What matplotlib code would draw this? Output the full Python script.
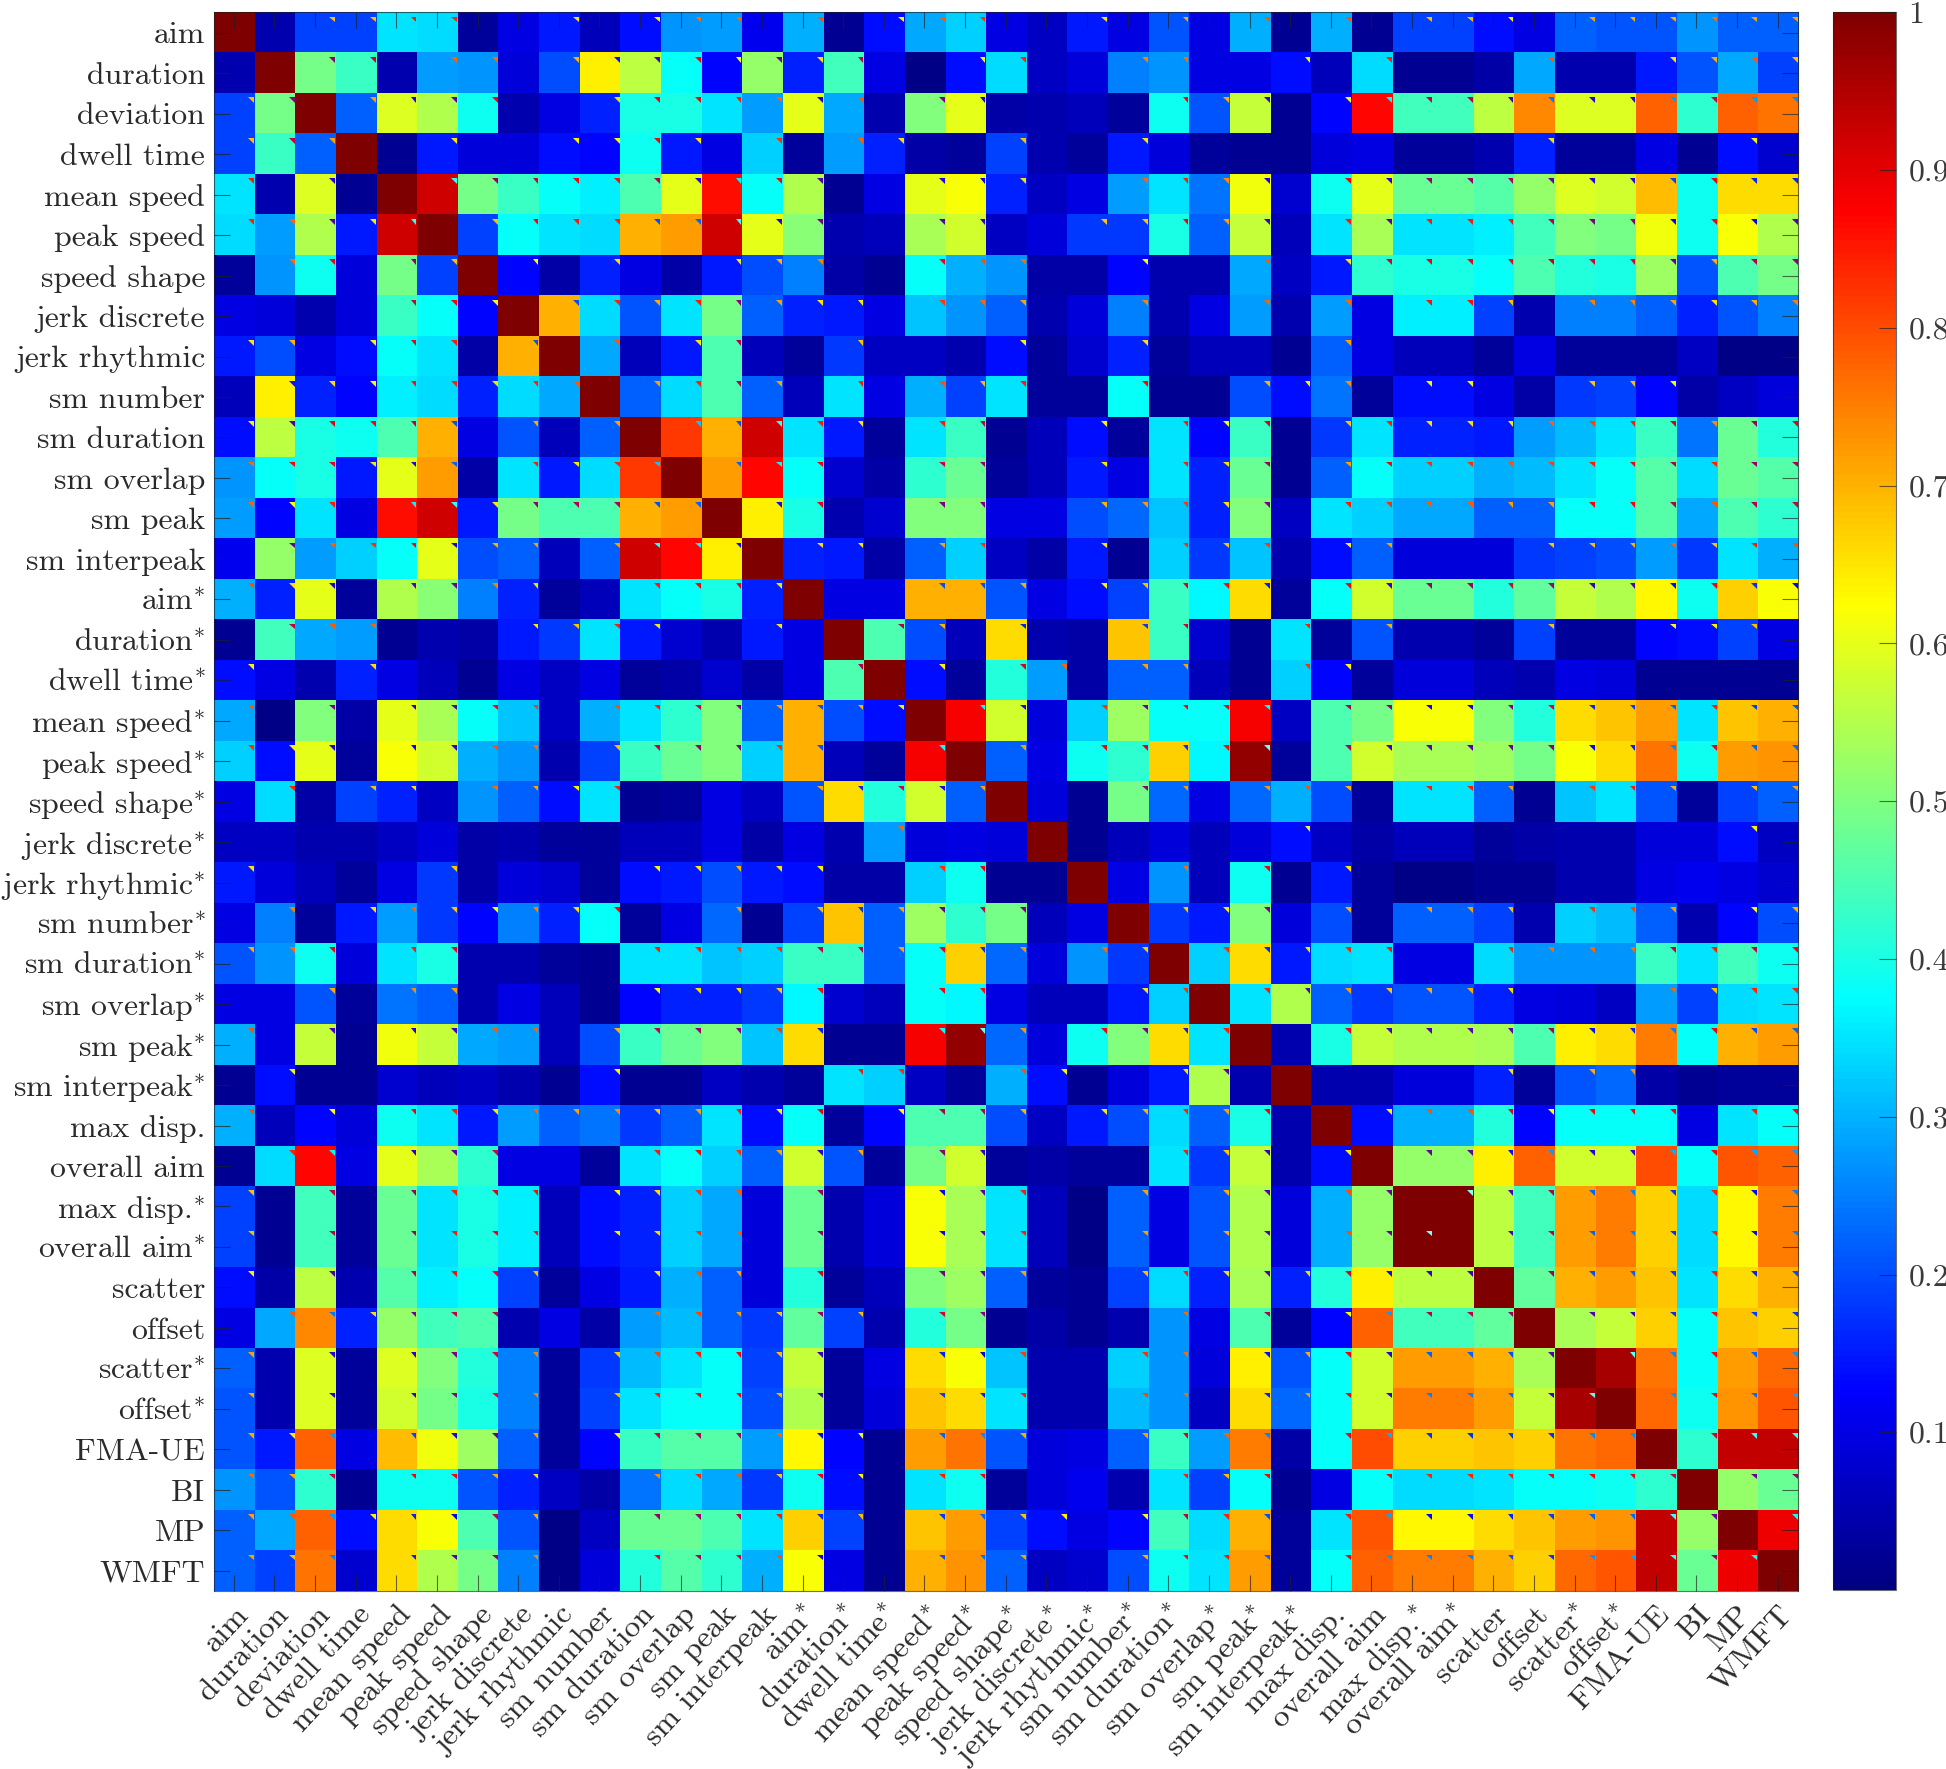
import numpy as np
import matplotlib
matplotlib.use("Agg")
import matplotlib.pyplot as plt
from matplotlib.colors import LinearSegmentedColormap

names = ["aim", "duration", "deviation", "dwell time", "mean speed", "peak speed", "speed shape",
         "jerk discrete", "jerk rhythmic", "sm number", "sm duration", "sm overlap", "sm peak", "sm interpeak",
         "aim*", "duration*", "dwell time*", "mean speed*", "peak speed*", "speed shape*", "jerk discrete*",
         "jerk rhythmic*", "sm number*", "sm duration*", "sm overlap*", "sm peak*", "sm interpeak*",
         "max disp.", "overall aim", "max disp.*", "overall aim*", "scatter", "offset", "scatter*", "offset*",
         "FMA-UE", "BI", "MP", "WMFT"]

# upper triangle of the symmetric correlation matrix, one list per row, starting right of the diagonal
r00 = [.05,.19,.19,.35,.34,.03,.10,.15,.06,.14,.27,.28,.11,.30,.02,.14,.29,.33,.10,.07,.15,.10,.21,.10,.30,.02,.30,.02,.19,.19,.14,.10,.22,.21,.21,.27,.22,.22]
r01 = [.49,.43,.05,.28,.27,.09,.20,.64,.56,.38,.13,.52,.16,.44,.10,.01,.14,.34,.07,.09,.25,.27,.10,.10,.14,.06,.34,.02,.02,.04,.29,.05,.05,.15,.21,.29,.19]
r02 = [.22,.59,.55,.39,.05,.10,.16,.40,.40,.35,.28,.60,.29,.05,.50,.60,.04,.05,.06,.03,.39,.21,.57,.02,.13,.87,.44,.44,.56,.74,.59,.59,.78,.42,.78,.76]
r03 = [.02,.15,.09,.09,.14,.13,.39,.15,.10,.33,.03,.28,.16,.04,.03,.19,.05,.03,.15,.09,.03,.02,.02,.09,.10,.03,.03,.05,.16,.03,.03,.10,.02,.14,.08]
r04 = [.92,.49,.43,.38,.36,.45,.60,.86,.38,.55,.02,.10,.60,.62,.16,.07,.10,.28,.35,.24,.61,.08,.39,.60,.48,.48,.46,.52,.59,.58,.69,.39,.66,.66]
r05 = [.19,.38,.35,.34,.70,.72,.92,.60,.51,.05,.06,.54,.58,.07,.09,.18,.18,.40,.22,.57,.06,.35,.54,.35,.35,.36,.44,.50,.49,.61,.39,.62,.55]
r06 = [.13,.04,.16,.10,.04,.15,.20,.25,.04,.02,.38,.30,.27,.04,.04,.13,.05,.05,.29,.07,.15,.42,.40,.40,.38,.45,.41,.40,.53,.21,.45,.49]
r07 = [.70,.34,.21,.35,.49,.22,.16,.15,.10,.32,.27,.22,.05,.09,.25,.05,.10,.28,.05,.28,.10,.36,.36,.19,.05,.25,.25,.22,.16,.21,.25]
r08 = [.29,.06,.15,.45,.06,.03,.18,.07,.07,.05,.14,.03,.08,.16,.03,.06,.06,.02,.22,.10,.06,.06,.03,.10,.03,.03,.03,.07,.01,.01]
r09 = [.22,.34,.45,.22,.06,.35,.10,.30,.19,.35,.03,.03,.38,.02,.02,.20,.14,.24,.03,.14,.14,.10,.04,.18,.19,.13,.04,.07,.09]
r10 = [.82,.70,.92,.35,.15,.03,.35,.43,.02,.06,.14,.03,.35,.13,.43,.02,.18,.35,.16,.16,.15,.28,.31,.35,.43,.24,.48,.41]
r11 = [.72,.87,.38,.08,.04,.42,.48,.03,.06,.15,.10,.35,.16,.48,.02,.22,.38,.33,.33,.30,.31,.35,.38,.46,.34,.48,.46]
r12 = [.64,.40,.05,.08,.50,.50,.10,.10,.20,.23,.32,.16,.50,.07,.35,.33,.29,.29,.22,.22,.38,.38,.46,.29,.45,.42]
r13 = [.16,.15,.04,.22,.33,.07,.04,.15,.02,.33,.18,.32,.05,.14,.22,.09,.09,.09,.18,.19,.20,.28,.18,.35,.30]
r14 = [.10,.10,.70,.70,.21,.10,.14,.19,.43,.37,.66,.03,.38,.58,.48,.48,.41,.47,.57,.55,.63,.39,.67,.62]
r15 = [.45,.20,.06,.66,.05,.04,.68,.43,.08,.02,.35,.03,.21,.05,.05,.03,.19,.03,.03,.13,.14,.19,.10]
r16 = [.14,.03,.41,.28,.04,.22,.22,.06,.02,.33,.13,.03,.09,.09,.06,.05,.10,.09,.02,.02,.02,.02]
r17 = [.88,.58,.09,.33,.53,.38,.38,.88,.07,.45,.49,.62,.62,.50,.41,.66,.68,.72,.35,.68,.70]
r18 = [.22,.10,.39,.42,.67,.37,.98,.03,.45,.58,.54,.54,.53,.49,.62,.66,.76,.39,.72,.73]
r19 = [.09,.02,.49,.23,.10,.23,.30,.20,.03,.35,.35,.22,.02,.32,.35,.21,.03,.19,.22]
r20 = [.02,.06,.09,.06,.09,.14,.07,.04,.06,.06,.03,.04,.05,.05,.09,.09,.14,.07]
r21 = [.10,.27,.06,.39,.02,.15,.03,.01,.01,.02,.02,.05,.05,.10,.11,.10,.08]
r22 = [.18,.15,.50,.09,.20,.03,.22,.22,.19,.05,.33,.31,.22,.05,.13,.20]
r23 = [.33,.66,.15,.34,.35,.10,.10,.34,.27,.27,.27,.43,.35,.44,.39]
r24 = [.35,.55,.22,.18,.21,.21,.16,.10,.09,.07,.28,.19,.34,.35]
r25 = [.05,.40,.57,.55,.55,.54,.45,.64,.66,.75,.38,.70,.72]
r26 = [.05,.05,.09,.09,.16,.03,.21,.23,.04,.02,.03,.03]
r27 = [.14,.30,.30,.41,.13,.38,.38,.38,.10,.35,.38]
r28 = [.52,.52,.64,.78,.58,.58,.80,.38,.79,.78]
r29 = [1.0,.56,.44,.72,.75,.67,.34,.63,.75]
r30 = [.56,.44,.72,.75,.67,.34,.63,.75]
r31 = [.47,.70,.72,.68,.35,.66,.70]
r32 = [.54,.57,.67,.38,.68,.67]
r33 = [.96,.76,.38,.72,.77]
r34 = [.77,.39,.73,.79]
r35 = [.42,.93,.93]
r36 = [.52,.48]
r37 = [.89]
rows = [r00,r01,r02,r03,r04,r05,r06,r07,r08,r09,r10,r11,r12,r13,r14,r15,r16,r17,r18,r19,
        r20,r21,r22,r23,r24,r25,r26,r27,r28,r29,r30,r31,r32,r33,r34,r35,r36,r37]
cbar_ticks = [.1,.2,.3,.4,.5,.6,.7,.8,.9,1]
cbar_labels = ["0.1","0.2","0.3","0.4","0.5","0.6","0.7","0.8","0.9","1"]
significance_level = 0.125

n = len(names)
M = np.eye(n)
for i, row in enumerate(rows):
    M[i, i+1:] = row
    M[i+1:, i] = row

plt.rcParams['font.family'] = ['cmr10', 'DejaVu Serif']
plt.rcParams['mathtext.fontset'] = 'cm'
plt.rcParams['axes.formatter.use_mathtext'] = True
W, H = 1946, 1769
fig = plt.figure(figsize=(W/100, H/100), dpi=100)
def box(l, r, t, b):
    return [l/W, 1-b/H, (r-l)/W, (b-t)/H]
ax = fig.add_axes(box(213.5, 1798, 12.5, 1591))
cax = fig.add_axes(box(1833, 1896, 12.5, 1590))
# the MATLAB flavour of jet (pure yellow at 0.625, pure red at 0.875)
cmap = LinearSegmentedColormap.from_list('matlab_jet', [
    (0, (0, 0, .5)), (.125, (0, 0, 1)), (.375, (0, 1, 1)),
    (.625, (1, 1, 0)), (.875, (1, 0, 0)), (1, (.5, 0, 0))], N=256)
norm = plt.Normalize(0, 1)
im = ax.imshow(M, cmap=cmap, norm=norm, aspect='auto', interpolation='nearest')

# significance marks: upper-right corner, complementary colour of the cell
ii, jj = np.where((M >= significance_level) & ~np.eye(n, dtype=bool))
cols = 1 - cmap(norm(M[ii, jj]))[:, :3]
ax.scatter(jj + .425, ii - .33, c=cols, s=17, marker=[(-1, 1), (1, 1), (1, -1)], linewidths=0, zorder=3)

def ylab(s):
    return s[:-1] + r"$^{*}$" if s.endswith("*") else s
tc = (0.12, 0.12, 0.12, 0.65)
fs = 22.9
ax.set_xticks(range(n))
ax.set_yticks(range(n))
ax.set_yticklabels([ylab(s) for s in names], fontsize=fs, color='#2a2a2a', va='center_baseline')
ax.set_xticklabels([ylab(s) for s in names], fontsize=fs, color='#2a2a2a', rotation=47, ha='right', va='top', rotation_mode='anchor')
ax.tick_params(axis='both', direction='in', length=11.5, width=.8, color=tc, top=True, right=True)
ax.tick_params(axis='y', pad=6)
ax.tick_params(axis='x', pad=7)
for s in ax.spines.values():
    s.set_linewidth(.8)
    s.set_color(tc)

cb = fig.colorbar(im, cax=cax, ticks=cbar_ticks)
cb.ax.set_yticklabels(cbar_labels, fontsize=fs, color='#3a3a3a')
cb.ax.tick_params(direction='in', length=12, width=.8, color=tc, pad=9)
cb.outline.set_linewidth(.8)
cb.outline.set_edgecolor(tc)

fig.savefig("out.png", dpi=100)
